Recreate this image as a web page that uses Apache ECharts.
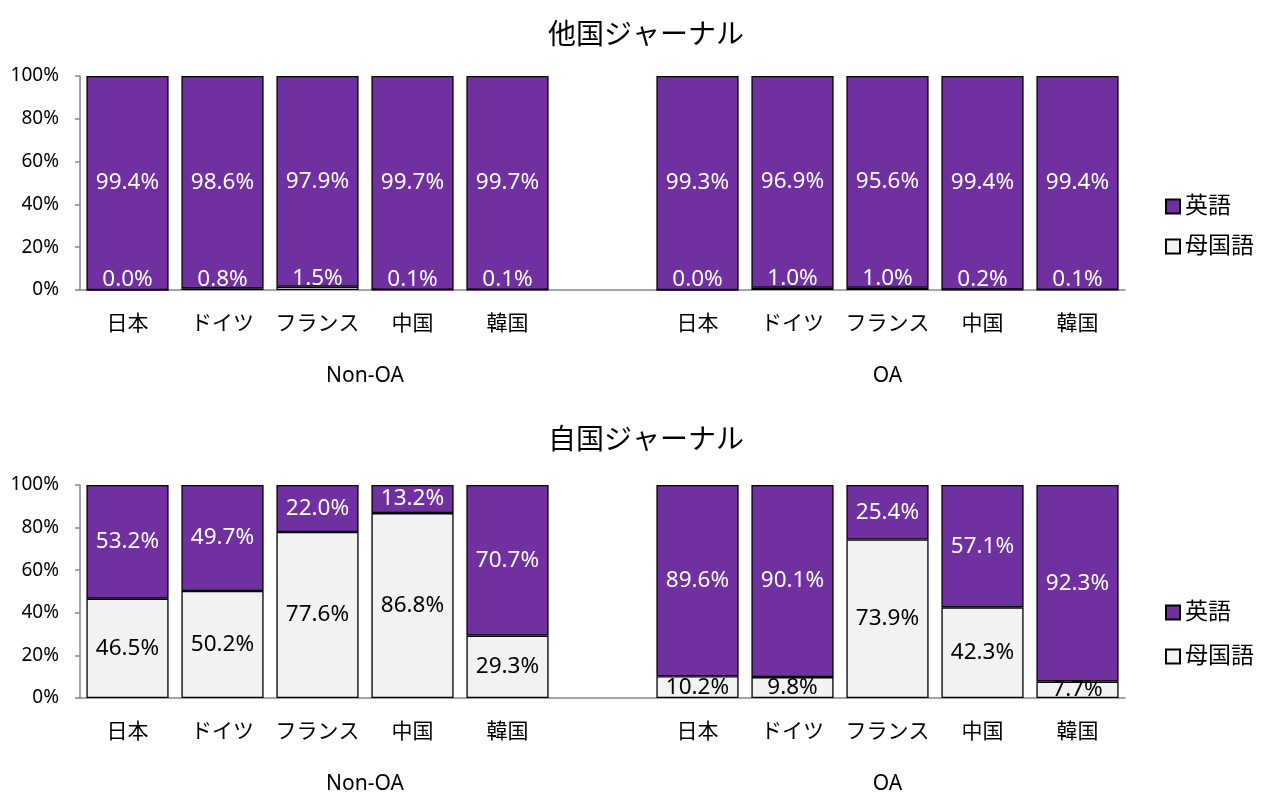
<!DOCTYPE html>
<html>
<head>
<meta charset="utf-8">
<script src="https://cdn.jsdelivr.net/npm/echarts@6/dist/echarts.min.js"></script>
<style>
  html, body { margin: 0; padding: 0; background: #fff; }
  #main { width: 1262px; height: 792px; }
</style>
</head>
<body>
<div id="main"></div>
<script>
// カテゴリ (index 5 is the empty slot between the groups)
var categories = ['日本', 'ドイツ', 'フランス', '中国', '韓国', '', '日本', 'ドイツ', 'フランス', '中国', '韓国'];
var groupNames = ['Non-OA', 'OA'];
var groupSpans = [[0, 5], [6, 10]];
var yTicks = [0, 20, 40, 60, 80, 100];

// 他国ジャーナル
var foreignEnglish = [99.4, 98.6, 97.9, 99.7, 99.7, null, 99.3, 96.9, 95.6, 99.4, 99.4];
var foreignNative  = [0.0, 0.8, 1.5, 0.1, 0.1, null, 0.0, 1.0, 1.0, 0.2, 0.1];
// 自国ジャーナル
var domesticEnglish = [53.2, 49.7, 22.0, 13.2, 70.7, null, 89.6, 90.1, 25.4, 57.1, 92.3];
var domesticNative  = [46.5, 50.2, 77.6, 86.8, 29.3, null, 10.2, 9.8, 73.9, 42.3, 7.7];

var PURPLE = '#7030a0';
var GRAY = '#f2f2f2';
var AXIS = '#868686';
var FONT = '"Noto Sans", "Noto Sans CJK JP", sans-serif';

// 100% stacked: each segment as share of the bar total
function share(a, b) {
  return a.map(function(v, i) {
    return v == null ? null : v / (v + b[i]) * 100;
  });
}

function groupLabel(v) {
  for (var g = 0; g < groupSpans.length; g++) {
    var c = (groupSpans[g][0] + groupSpans[g][1] + 1) / 2;
    if (Math.abs(v - c) < 1e-6) return groupNames[g];
  }
  return '';
}

function fmt(raw) {
  return function(p) { return raw[p.dataIndex].toFixed(1) + '%'; };
}

var chart = echarts.init(document.getElementById('main'));

var grids = [
  { left: 80, right: 137, top: 76, height: 214, outerBoundsMode: 'none' },
  { left: 80, right: 137, top: 485, height: 213, outerBoundsMode: 'none' }
];

var xAxes = [], yAxes = [];
[0, 1].forEach(function(g) {
  xAxes.push({
    type: 'category', gridIndex: g, data: categories,
    axisLine: { lineStyle: { color: AXIS, width: 1.5 } },
    axisTick: { show: false },
    axisLabel: { color: '#000', fontSize: 21, fontFamily: FONT, margin: 24, interval: 0 }
  });
  xAxes.push({
    type: 'value', gridIndex: g, min: 0, max: categories.length, interval: 0.5,
    position: 'bottom',
    axisLine: { show: false }, axisTick: { show: false }, splitLine: { show: false },
    axisLabel: { color: '#000', fontSize: 21, fontFamily: FONT, margin: 76,
                 showMinLabel: true, showMaxLabel: true, formatter: groupLabel }
  });
  yAxes.push({
    type: 'value', gridIndex: g, min: 0, max: 100, interval: 20,
    axisLine: { show: true, lineStyle: { color: AXIS, width: 1.5 } },
    axisTick: { show: true, length: 5, lineStyle: { color: AXIS, width: 1.5 } },
    splitLine: { show: false },
    axisLabel: { color: '#000', fontSize: 19, fontFamily: FONT, margin: 21,
                 formatter: function(v) { return yTicks.indexOf(v) >= 0 ? v + '%' : ''; } }
  });
});

function barSeries(name, g, raw, other, color, labelColor, offset) {
  return {
    name: name, type: 'bar', stack: 's' + g,
    xAxisIndex: g * 2, yAxisIndex: g,
    data: share(raw, other),
    barCategoryGap: '13.5%',
    itemStyle: { color: color, borderColor: '#000', borderWidth: 1.3 },
    label: {
      show: true, position: 'inside', color: labelColor,
      fontSize: 22.5, fontFamily: FONT, offset: offset || [0, 0],
      formatter: fmt(raw)
    },
    emphasis: { disabled: true }
  };
}

var legendCommon = {
  orient: 'vertical', left: 1160, icon: 'rect', itemWidth: 14, itemHeight: 14,
  itemGap: 17, selectedMode: false,
  textStyle: { color: '#000', fontSize: 23, fontFamily: FONT },
  data: ['英語', '母国語']
};

var option = {
  animation: false,
  title: [
    { text: '他国ジャーナル', left: 641, top: 17, textAlign: 'center',
      textStyle: { fontSize: 28, fontWeight: 'normal', color: '#000', fontFamily: FONT } },
    { text: '自国ジャーナル', left: 641, top: 422, textAlign: 'center',
      textStyle: { fontSize: 28, fontWeight: 'normal', color: '#000', fontFamily: FONT } }
  ],
  legend: [
    Object.assign({}, legendCommon, { top: 190 }),
    Object.assign({}, legendCommon, { top: 596, itemGap: 21 })
  ],
  grid: grids,
  xAxis: xAxes,
  yAxis: yAxes,
  series: [
    barSeries('母国語', 0, foreignNative, foreignEnglish, GRAY, '#fff', [0, -10]),
    barSeries('英語', 0, foreignEnglish, foreignNative, PURPLE, '#fff'),
    barSeries('母国語', 1, domesticNative, domesticEnglish, GRAY, '#000'),
    barSeries('英語', 1, domesticEnglish, domesticNative, PURPLE, '#fff')
  ]
};

chart.setOption(option);
window.onresize = function() { chart.resize(); };
</script>
</body>
</html>
